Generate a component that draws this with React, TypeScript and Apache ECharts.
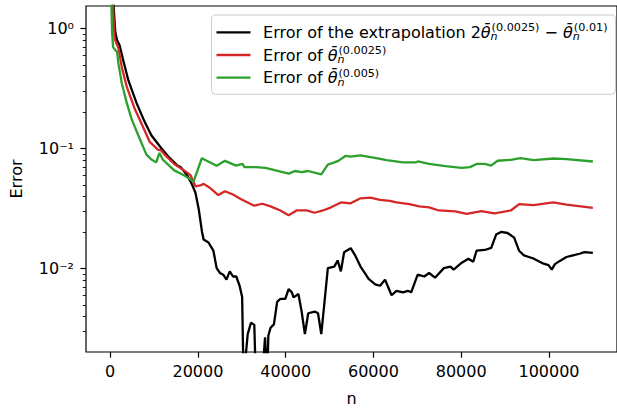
import React, { useEffect, useRef } from 'react';
import * as echarts from 'echarts';

// ---- data ----
const nExtrap = [0, 1180, 1560, 2150, 3040, 4160, 6030, 7890, 9390, 11620, 13480, 15330, 16090, 17560, 18680, 19440, 20180, 20920, 21300, 22410, 23530, 24270, 25030, 25770, 26500, 27260, 28000, 28740, 29500, 30080, 30400, 31350, 32090, 32850, 33200, 34800, 35300, 35800, 36050, 36560, 37320, 38060, 38790, 39910, 40670, 41410, 41790, 42900, 43640, 44380, 45140, 46620, 47370, 48110, 48850, 49610, 51080, 51840, 52580, 53320, 54820, 55930, 57050, 57790, 58900, 60400, 61520, 62640, 63370, 64130, 65250, 66730, 67840, 68600, 70080, 71580, 72690, 74030, 76050, 77540, 78280, 80130, 81630, 82750, 83490, 85360, 86840, 87960, 89070, 90570, 92070, 93180, 94300, 95420, 96540, 98770, 99890, 100630, 101360, 102480, 103980, 105480, 106950, 108070, 110000];
const errExtrap = [4.0, 0.93, 0.80, 0.725, 0.534, 0.369, 0.239, 0.166, 0.129, 0.101, 0.084, 0.072, 0.070, 0.060, 0.050, 0.0428, 0.0314, 0.0204, 0.0175, 0.0165, 0.0141, 0.0101, 0.0092, 0.0089, 0.0081, 0.0095, 0.0086, 0.0086, 0.0072, 0.0058, 0.0012, 0.00285, 0.00354, 0.0034, 0.0012, 0.0015, 0.00268, 0.0012, 0.00277, 0.00322, 0.00343, 0.00528, 0.00561, 0.00561, 0.00675, 0.00635, 0.00576, 0.00615, 0.00439, 0.00285, 0.00425, 0.00439, 0.00425, 0.00285, 0.00528, 0.0101, 0.0104, 0.0117, 0.0095, 0.0137, 0.0148, 0.0127, 0.0104, 0.0095, 0.0082, 0.0074, 0.0072, 0.0081, 0.0070, 0.0060, 0.00654, 0.00635, 0.00654, 0.00635, 0.0089, 0.0086, 0.0092, 0.0084, 0.0101, 0.0104, 0.0098, 0.0112, 0.0121, 0.0114, 0.0141, 0.0143, 0.0149, 0.0192, 0.0202, 0.0198, 0.0181, 0.0141, 0.0129, 0.0125, 0.0121, 0.0110, 0.0107, 0.0098, 0.0109, 0.0116, 0.0125, 0.0129, 0.0133, 0.0137, 0.0135];

const nStep0025 = [0, 1030, 1340, 1920, 2680, 3800, 5650, 7500, 9000, 10860, 11620, 12360, 14600, 16830, 18320, 19440, 20560, 21300, 22800, 24650, 26150, 28000, 29850, 32850, 34700, 36560, 38800, 40670, 42500, 44760, 46600, 48500, 50350, 52600, 54800, 57050, 59300, 61500, 63750, 65250, 68200, 70460, 72700, 74900, 78660, 81250, 84600, 87600, 91300, 93200, 96500, 101000, 104000, 110000];
const errStep0025 = [4.0, 0.82, 0.77, 0.68, 0.47, 0.326, 0.212, 0.151, 0.114, 0.098, 0.0964, 0.0895, 0.0744, 0.0658, 0.060, 0.0484, 0.0493, 0.0508, 0.0469, 0.041, 0.0441, 0.0414, 0.0378, 0.0334, 0.0347, 0.033, 0.0305, 0.0278, 0.0305, 0.0305, 0.0292, 0.0305, 0.0324, 0.0356, 0.035, 0.0385, 0.039, 0.0374, 0.0367, 0.0356, 0.0345, 0.033, 0.0324, 0.0305, 0.030, 0.0286, 0.0301, 0.0289, 0.0305, 0.0345, 0.0338, 0.0356, 0.0341, 0.032];

const nStep005 = [0, 450, 670, 1180, 1560, 1920, 2680, 3800, 4900, 6400, 8270, 9400, 10500, 11240, 11980, 14600, 16830, 17940, 19000, 20900, 22000, 24300, 26150, 28700, 30200, 30600, 33200, 35400, 37700, 40700, 42100, 43600, 45100, 48100, 49600, 51100, 52000, 53700, 54800, 57000, 60000, 63000, 66700, 69700, 70100, 72700, 76400, 80100, 82000, 83500, 85400, 86800, 88300, 91300, 93500, 96500, 101000, 104000, 110000];
const errStep005 = [4.0, 0.93, 0.70, 0.66, 0.64, 0.50, 0.346, 0.239, 0.176, 0.129, 0.089, 0.081, 0.0767, 0.092, 0.081, 0.0658, 0.060, 0.0564, 0.053, 0.083, 0.079, 0.072, 0.079, 0.072, 0.0744, 0.070, 0.070, 0.069, 0.0658, 0.0618, 0.065, 0.0637, 0.065, 0.061, 0.0735, 0.0767, 0.079, 0.087, 0.0858, 0.0879, 0.0842, 0.080, 0.0768, 0.0768, 0.0781, 0.0744, 0.0713, 0.0691, 0.070, 0.0744, 0.0744, 0.0721, 0.0791, 0.0806, 0.0832, 0.080, 0.0826, 0.0816, 0.078];

const xTicks = [0, 20000, 40000, 60000, 80000, 100000];
const yMajorTicks = [0.01, 0.1, 1];
const yTickLabels = ['10⁻²', '10⁻¹', '10⁰'];
const yMinorTicks = [0.003, 0.004, 0.005, 0.006, 0.007, 0.008, 0.009, 0.02, 0.03, 0.04, 0.05, 0.06, 0.07, 0.08, 0.09, 0.2, 0.3, 0.4, 0.5, 0.6, 0.7, 0.8, 0.9];

const seriesNames = ['extrap', 'step0025', 'step005'];
const legendLabels: Record<string, string> = {
  extrap: '{gap| }Error of the extrapolation 2{th|θ̄}{sub|n}{sup|(0.0025)} − {th|θ̄}{sub|n}{sup|(0.01)}',
  step0025: '{gap| }Error of {th|θ̄}{sub|n}{sup|(0.0025)}',
  step005: '{gap| }Error of {th|θ̄}{sub|n}{sup|(0.005)}',
};
const colors = ['#000000', '#d62728', '#2ca02c'];

const FONT = 'DejaVu Sans';
const FS = 16;
const X_MIN = -5500;
const X_MAX = 115500;
const Y_MIN = 0.002022;
const Y_MAX = 1.538;

function pairs(xs: number[], ys: number[]) {
  return xs.map((x, i) => [x, ys[i]]);
}

export default function App() {
  const ref = useRef<HTMLDivElement>(null);
  useEffect(() => {
    if (!ref.current) return;
    const chart = echarts.init(ref.current, undefined, { renderer: 'svg' });
    const datasets = [pairs(nExtrap, errExtrap), pairs(nStep0025, errStep0025), pairs(nStep005, errStep005)];
    chart.setOption({
      animation: false,
      grid: {
        left: 80, top: 6, right: -4.6, bottom: 45.7,
        show: true, borderColor: '#000', borderWidth: 1.2, backgroundColor: 'transparent',
      },
      legend: {
        data: seriesNames,
        orient: 'vertical',
        left: 211.5, top: 15,
        padding: [7.3, 8, 6.6, 5],
        itemGap: 2.7,
        itemWidth: 34, itemHeight: 2.3,
        icon: 'rect',
        backgroundColor: 'rgba(255,255,255,0.8)',
        borderColor: '#cccccc', borderWidth: 1, borderRadius: 4,
        formatter: (name: string) => legendLabels[name],
        textStyle: {
          fontFamily: FONT, fontSize: FS, color: '#000', lineHeight: 20,
          rich: {
            gap: { width: 7.6, fontSize: FS, lineHeight: 20 },
            th: { fontFamily: FONT, fontSize: FS, fontStyle: 'italic', color: '#000', lineHeight: 20 },
            sub: { fontFamily: FONT, fontSize: 11.2, fontStyle: 'italic', color: '#000', width: 1, lineHeight: 12, verticalAlign: 'bottom' },
            sup: { fontFamily: FONT, fontSize: 11.2, color: '#000', lineHeight: 12, verticalAlign: 'top' },
          },
        },
      },
      xAxis: [{
        type: 'value', min: X_MIN, max: X_MAX,
        axisLine: { show: false, onZero: false },
        splitLine: { show: false },
        axisTick: { show: true, customValues: xTicks, length: 5.6, lineStyle: { color: '#000', width: 1.2 } },
        axisLabel: {
          customValues: xTicks, fontFamily: FONT, fontSize: FS, color: '#000', margin: 11,
          formatter: (v: number) => String(v),
        },
        name: 'n', nameLocation: 'middle', nameGap: 38,
        nameTextStyle: { fontFamily: FONT, fontSize: FS, color: '#000' },
      }],
      yAxis: [{
        type: 'log', logBase: 10, min: Y_MIN, max: Y_MAX,
        axisLine: { show: false, onZero: false },
        splitLine: { show: false },
        axisTick: { show: true, customValues: yMajorTicks, length: 5.6, lineStyle: { color: '#000', width: 1.2 } },
        axisLabel: {
          customValues: yMajorTicks, margin: 12,
          fontFamily: FONT, fontSize: FS, color: '#000',
          formatter: (v: number) => {
            const i = yMajorTicks.findIndex((t) => Math.abs(Math.log10(t) - Math.log10(v)) < 1e-6);
            return i >= 0 ? yTickLabels[i] : '';
          },
        },
        name: 'Error', nameLocation: 'middle', nameGap: 62,
        nameTextStyle: { fontFamily: FONT, fontSize: FS, color: '#000' },
      }],
      series: datasets.map((d, i) => ({
        name: seriesNames[i],
        type: 'line',
        data: d,
        showSymbol: false,
        symbol: 'none',
        clip: true,
        lineStyle: { color: colors[i], width: 2.3 },
        itemStyle: { color: colors[i] },
        z: 2 + i,
      })),
    });
    // minor log ticks placed through the axis scale
    const xLeft = chart.convertToPixel({ xAxisIndex: 0 }, X_MIN) as number;
    const minor = yMinorTicks.map((v) => {
      const y = Math.round(chart.convertToPixel({ yAxisIndex: 0 }, v) as number) + 0.5;
      return {
        type: 'line', silent: true,
        shape: { x1: xLeft - 3.2, y1: y, x2: xLeft, y2: y },
        style: { stroke: '#000', lineWidth: 0.9 },
      };
    });
    chart.setOption({ graphic: minor });
    return () => chart.dispose();
  }, []);
  return <div ref={ref} style={{ position: 'absolute', left: 0, top: 0, width: 617, height: 411 }} />;
}
